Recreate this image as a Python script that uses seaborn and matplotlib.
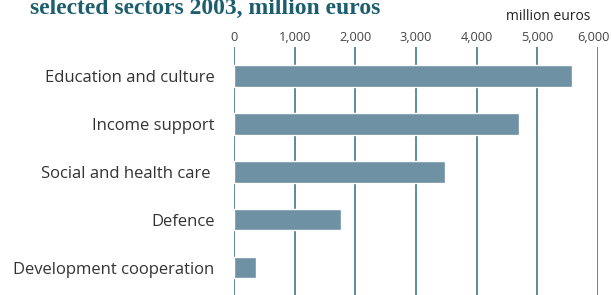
import matplotlib
matplotlib.use("Agg")
import matplotlib.pyplot as plt
import matplotlib.transforms as mtransforms
import seaborn as sns
import pandas as pd

sectors = ['Education and culture', 'Income support', 'Social and health care ',
           'Defence', 'Development cooperation']
spending = [5570, 4700, 3470, 1770, 370]
ticks = [0, 1000, 2000, 3000, 4000, 5000, 6000]
tick_labels = ['0', '1,000', '2,000', '3,000', '4,000', '5,000', '6,000']

df = pd.DataFrame({'sector': sectors, 'spending': spending})

sns.set_style('white')
plt.rcParams['font.family'] = ['Open Sans', 'DejaVu Sans']

fig = plt.figure(figsize=(6.12, 2.95), dpi=100)
ax = fig.add_axes([234 / 612, 0, (598 - 234) / 612, 1 - 47 / 295])

sns.barplot(data=df, x='spending', y='sector', color='#6e91a3', saturation=1,
            width=0.45, ax=ax, zorder=3)

# gridlines in place of the axis
for t in ticks:
    ax.axvline(t, color='#2f6d7c', lw=1.1, zorder=1)

ax.set_xlim(0, 6000)
ax.set_ylim(4.574, -0.605)
ax.xaxis.tick_top()
ax.set_xticks(ticks)
ax.set_xticklabels(tick_labels, fontsize=9.2, color='#444444')
ax.tick_params(axis='x', length=0, pad=2.5)
ax.tick_params(axis='y', length=0, pad=14, labelsize=12, labelcolor='#333333')
ax.set_xlabel('')
ax.set_ylabel('')
for s in ax.spines.values():
    s.set_visible(False)

# keep the last tick label inside the figure
last = ax.get_xticklabels()[-1]
last.set_transform(last.get_transform() +
                   mtransforms.ScaledTranslation(-5 / 100, 0, fig.dpi_scale_trans))

fig.text(506 / 612, 1 - 17 / 295, 'million euros', fontsize=10, color='#222222',
         va='center', ha='left')
fig.text(30 / 612, 1 - 14 / 295, 'selected sectors 2003, million euros',
         fontsize=17, fontweight='bold', color='#1d5e6e', va='baseline', ha='left',
         family=['Liberation Serif'])

fig.savefig('out.png', dpi=100)
